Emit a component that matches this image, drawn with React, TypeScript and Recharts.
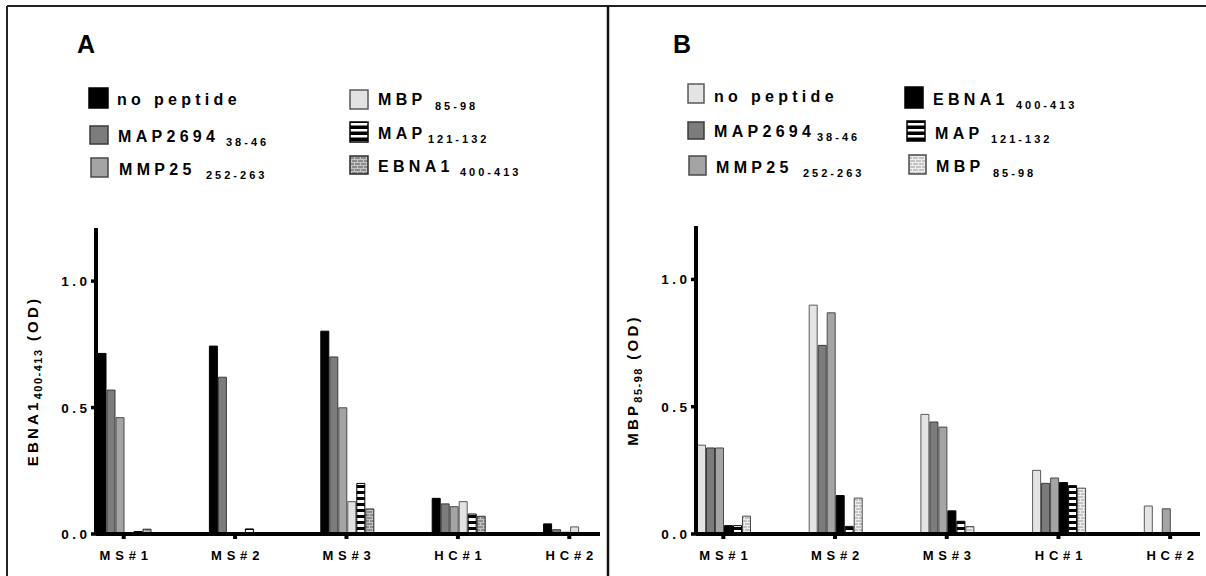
import React from 'react';
import { BarChart, Bar, XAxis, YAxis } from 'recharts';

// ---------- data ----------
const categories = ['MS#1', 'MS#2', 'MS#3', 'HC#1', 'HC#2'];
const yTicks = [0, 0.5, 1.0];

// Panel A: EBNA1 400-413 (OD)
const noPeptideA = [0.714, 0.743, 0.802, 0.141, 0.040];
const map2694A = [0.569, 0.620, 0.700, 0.119, 0.017];
const mmp25A = [0.460, 0, 0.499, 0.108, 0.007];
const mbpA = [0.004, 0.003, 0.128, 0.128, 0.028];
const map121A = [0.010, 0.020, 0.200, 0.079, 0];
const ebna1A = [0.019, 0, 0.099, 0.070, 0];

// Panel B: MBP 85-98 (OD)
const noPeptideB = [0.349, 0.899, 0.470, 0.250, 0.110];
const map2694B = [0.338, 0.741, 0.440, 0.199, 0];
const mmp25B = [0.338, 0.869, 0.420, 0.220, 0.099];
const ebna1B = [0.033, 0.151, 0.091, 0.202, 0];
const map121B = [0.033, 0.030, 0.050, 0.190, 0];
const mbpB = [0.070, 0.141, 0.029, 0.180, 0];

// ---------- styles ----------
const FONT = '"Liberation Sans", Arial, Helvetica, sans-serif';

type Series = { key: string; values: number[]; fill: string; stroke: string; main: string; sub: string };

const seriesA: Series[] = [
  { key: 'noPeptide', values: noPeptideA, fill: '#000000', stroke: '#000000', main: 'no peptide', sub: '' },
  { key: 'map2694', values: map2694A, fill: '#7c7c7c', stroke: '#3a3a3a', main: 'MAP2694', sub: '38-46' },
  { key: 'mmp25', values: mmp25A, fill: '#a4a4a4', stroke: '#4a4a4a', main: 'MMP25', sub: '252-263' },
  { key: 'mbp', values: mbpA, fill: '#e2e2e2', stroke: '#5a5a5a', main: 'MBP', sub: '85-98' },
  { key: 'map121', values: map121A, fill: 'url(#stripesA)', stroke: '#000000', main: 'MAP', sub: '121-132' },
  { key: 'ebna1', values: ebna1A, fill: 'url(#bricksA)', stroke: '#2a2a2a', main: 'EBNA1', sub: '400-413' },
];

const seriesB: Series[] = [
  { key: 'noPeptide', values: noPeptideB, fill: '#e4e4e4', stroke: '#5a5a5a', main: 'no peptide', sub: '' },
  { key: 'map2694', values: map2694B, fill: '#7c7c7c', stroke: '#3a3a3a', main: 'MAP2694', sub: '38-46' },
  { key: 'mmp25', values: mmp25B, fill: '#a4a4a4', stroke: '#4a4a4a', main: 'MMP25', sub: '252-263' },
  { key: 'ebna1', values: ebna1B, fill: '#000000', stroke: '#000000', main: 'EBNA1', sub: '400-413' },
  { key: 'map121', values: map121B, fill: 'url(#stripesB)', stroke: '#000000', main: 'MAP', sub: '121-132' },
  { key: 'mbp', values: mbpB, fill: 'url(#bricksB)', stroke: '#4a4a4a', main: 'MBP', sub: '85-98' },
];

const buildRows = (series: Series[]) =>
  categories.map((cat, i) => {
    const row: Record<string, any> = { cat };
    series.forEach((s) => (row[s.key] = s.values[i]));
    return row;
  });

const dataA = buildRows(seriesA);
const dataB = buildRows(seriesB);

// ---------- legend layout (positions only) ----------
type LegendPos = { sq: [number, number, number, number]; tx: number; base: number; subX: number; subBase: number };
const legendLayoutA: LegendPos[] = [
  { sq: [89, 88, 19, 20], tx: 117, base: 105, subX: 0, subBase: 0 },
  { sq: [90, 126, 18, 18], tx: 118, base: 142, subX: 226, subBase: 146 },
  { sq: [91, 158, 17, 19], tx: 119, base: 175, subX: 206, subBase: 178.5 },
  { sq: [350, 90, 18, 19], tx: 378, base: 105, subX: 435, subBase: 110 },
  { sq: [350, 122, 18, 20], tx: 378, base: 139, subX: 428, subBase: 142.5 },
  { sq: [350, 156, 18, 18], tx: 378, base: 172, subX: 460, subBase: 176 },
];
const legendLayoutB: LegendPos[] = [
  { sq: [688, 84, 16, 19], tx: 714, base: 102, subX: 0, subBase: 0 },
  { sq: [688, 122, 16, 17], tx: 714, base: 137, subX: 817, subBase: 141 },
  { sq: [689, 156, 17, 19], tx: 716, base: 172.5, subX: 803, subBase: 176.5 },
  { sq: [905, 87, 18, 21], tx: 933, base: 104.5, subX: 1016, subBase: 109 },
  { sq: [907, 121, 18, 20], tx: 935, base: 139, subX: 991, subBase: 143 },
  { sq: [909, 155, 17, 19], tx: 936, base: 172, subX: 993, subBase: 176.5 },
];

const legendFill = (fill: string) =>
  fill.replace('#stripesA', '#lgStripes').replace('#stripesB', '#lgStripes').replace('#bricksA', '#lgBricksA').replace('#bricksB', '#lgBricksB');

const PatternDefs = ({ suffix, brickBg, brickLine }: { suffix: string; brickBg: string; brickLine: string }) => (
  <defs>
    <pattern id={`stripes${suffix}`} patternUnits="userSpaceOnUse" width="40" height="6">
      <rect x="0" y="0" width="40" height="6" fill="#000" />
      <rect x="0" y="2" width="40" height="3" fill="#fff" />
    </pattern>
    <pattern id={`bricks${suffix}`} patternUnits="userSpaceOnUse" width="6" height="6">
      <rect x="0" y="0" width="6" height="6" fill={brickBg} />
      <rect x="0" y="0" width="6" height="1" fill={brickLine} />
      <rect x="0" y="3" width="6" height="1" fill={brickLine} />
      <rect x="0" y="0" width="1" height="3" fill={brickLine} />
      <rect x="3" y="3" width="1" height="3" fill={brickLine} />
    </pattern>
  </defs>
);

const XTick = (props: any) => {
  const { x, y, payload } = props;
  return (
    <text x={x} y={y} dy={19} dx={2.5} textAnchor="middle" fontFamily={FONT} fontSize={13} fontWeight={700} letterSpacing={4.8} fill="#000">
      {payload.value}
    </text>
  );
};

const YTick = (props: any) => {
  const { x, y, payload } = props;
  return (
    <text x={x} y={y} dy={5} dx={1.5} textAnchor="end" fontFamily={FONT} fontSize={13.5} fontWeight={700} letterSpacing={3.5} fill="#000">
      {Number(payload.value).toFixed(1)}
    </text>
  );
};

const makeYLabel = (main: string, sub: string) => (props: any) => {
  const vb = props.viewBox || { x: 0, y: 0, width: 0, height: 0 };
  const cx = 38;
  const cy = vb.y + vb.height / 2;
  return (
    <text
      x={cx}
      y={cy}
      transform={`rotate(-90 ${cx} ${cy})`}
      textAnchor="middle"
      fontFamily={FONT}
      fontWeight={700}
      fill="#000"
    >
      <tspan fontSize={15} letterSpacing={3.2}>{main}</tspan>
      <tspan fontSize={11} letterSpacing={1.5} dy={4}>{sub}</tspan>
      <tspan fontSize={15} letterSpacing={3.2} dy={-4}>{' (OD)'}</tspan>
    </text>
  );
};

type PanelProps = {
  data: any[];
  series: Series[];
  width: number;
  top: number;
  marginRight: number;
  padLeft: number;
  padRight: number;
  suffix: string;
  brickBg: string;
  brickLine: string;
  yMain: string;
  ySub: string;
};

const AX = { stroke: '#000', strokeWidth: 4 };

const Panel = (p: PanelProps) => (
  <BarChart
    width={p.width}
    height={576}
    data={p.data}
    margin={{ top: p.top, right: p.marginRight, bottom: 0, left: 0 }}
    barCategoryGap={30}
    barGap={1}
  >
    <PatternDefs suffix={p.suffix} brickBg={p.brickBg} brickLine={p.brickLine} />
    {p.series.map((s) => (
      <Bar key={s.key} dataKey={s.key} fill={s.fill} stroke={s.stroke} strokeWidth={1} isAnimationActive={false} />
    ))}
    <XAxis
      dataKey="cat"
      height={42}
      interval={0}
      padding={{ left: p.padLeft, right: p.padRight }}
      stroke="#000"
      strokeWidth={4}
      axisLine={AX}
      tickLine={AX}
      tickSize={5}
      tick={<XTick />}
    />
    <YAxis
      width={96}
      domain={[0, 1.21]}
      ticks={yTicks}
      allowDataOverflow
      stroke="#000"
      strokeWidth={4}
      axisLine={AX}
      tickLine={{ stroke: '#000', strokeWidth: 3.5 }}
      tickSize={5}
      tick={<YTick />}
      label={makeYLabel(p.yMain, p.ySub)}
    />
  </BarChart>
);

const LegendBlock = ({ series, layout }: { series: Series[]; layout: LegendPos[] }) => (
  <g>
    {series.map((s, i) => {
      const L = layout[i];
      return (
        <g key={s.key}>
          <rect x={L.sq[0]} y={L.sq[1]} width={L.sq[2]} height={L.sq[3]} fill={legendFill(s.fill)} stroke={s.stroke} strokeWidth={1.5} />
          <text x={L.tx} y={L.base} fontFamily={FONT} fontWeight={700} fontSize={16} letterSpacing={4.3} fill="#000">
            {s.main}
          </text>
          {s.sub ? (
            <text x={L.subX} y={L.subBase} fontFamily={FONT} fontWeight={700} fontSize={11} letterSpacing={3} fill="#000">
              {s.sub}
            </text>
          ) : null}
        </g>
      );
    })}
  </g>
);

export default function App() {
  return (
    <div style={{ position: 'absolute', left: 0, top: 0, width: 1206, height: 576, background: '#fff', overflow: 'hidden' }}>
      <div style={{ position: 'absolute', left: 0, top: 0 }}>
        <Panel
          data={dataA}
          series={seriesA}
          width={600}
          top={228}
          marginRight={0}
          padLeft={-28}
          padRight={-25}
          suffix="A"
          brickBg="#8c8c8c"
          brickLine="#c4c4c4"
          yMain="EBNA1"
          ySub="400-413"
        />
      </div>
      <div style={{ position: 'absolute', left: 600, top: 0 }}>
        <Panel
          data={dataB}
          series={seriesB}
          width={606}
          top={226}
          marginRight={6}
          padLeft={-28.5}
          padRight={-26}
          suffix="B"
          brickBg="#c4c4c4"
          brickLine="#eeeeee"
          yMain="MBP"
          ySub="85-98"
        />
      </div>
      <svg width={1206} height={576} style={{ position: 'absolute', left: 0, top: 0, pointerEvents: 'none' }}>
        <defs>
          <pattern id="lgStripes" patternUnits="userSpaceOnUse" width="40" height="6" y="1">
            <rect x="0" y="0" width="40" height="6" fill="#000" />
            <rect x="0" y="2" width="40" height="2.5" fill="#fff" />
          </pattern>
          <pattern id="lgBricksA" patternUnits="userSpaceOnUse" width="6" height="6">
            <rect x="0" y="0" width="6" height="6" fill="#8c8c8c" />
            <rect x="0" y="0" width="6" height="1" fill="#c4c4c4" />
            <rect x="0" y="3" width="6" height="1" fill="#c4c4c4" />
            <rect x="0" y="0" width="1" height="3" fill="#c4c4c4" />
            <rect x="3" y="3" width="1" height="3" fill="#c4c4c4" />
          </pattern>
          <pattern id="lgBricksB" patternUnits="userSpaceOnUse" width="6" height="6">
            <rect x="0" y="0" width="6" height="6" fill="#c4c4c4" />
            <rect x="0" y="0" width="6" height="1" fill="#eeeeee" />
            <rect x="0" y="3" width="6" height="1" fill="#eeeeee" />
            <rect x="0" y="0" width="1" height="3" fill="#eeeeee" />
            <rect x="3" y="3" width="1" height="3" fill="#eeeeee" />
          </pattern>
        </defs>
        {/* frame */}
        <line x1={7} y1={6} x2={1206} y2={6} stroke="#222" strokeWidth={2} />
        <line x1={7} y1={6} x2={7} y2={576} stroke="#222" strokeWidth={2} />
        <line x1={608} y1={6} x2={608} y2={576} stroke="#111" strokeWidth={2.5} />
        {/* panel letters */}
        <text x={77} y={53} fontFamily={FONT} fontWeight={700} fontSize={25} fill="#000">A</text>
        <text x={673} y={53} fontFamily={FONT} fontWeight={700} fontSize={25} fill="#000">B</text>
        <LegendBlock series={seriesA} layout={legendLayoutA} />
        <LegendBlock series={seriesB} layout={legendLayoutB} />
      </svg>
    </div>
  );
}
